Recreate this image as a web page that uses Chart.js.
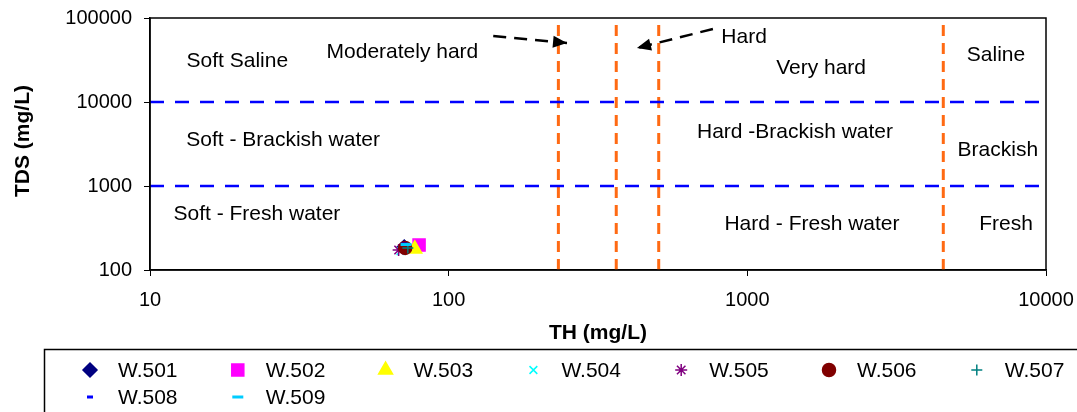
<!DOCTYPE html>
<html>
<head>
<meta charset="utf-8">
<script src="https://cdn.jsdelivr.net/npm/chart.js@4.4.0/dist/chart.umd.min.js"></script>
<style>
  html, body { margin: 0; padding: 0; background: #fff; }
  #wrap { width: 1077px; height: 412px; }
</style>
</head>
<body>
<div id="wrap"><canvas id="chart"></canvas></div>
<script>
// wells (sample points)
var wellNames = ['W.501', 'W.502', 'W.503', 'W.504', 'W.505', 'W.506', 'W.507', 'W.508', 'W.509'];
var wellTH = [71, 79.6, 77, 69, 68, 71.5, 73, 71, 72];
var wellTDS = [188, 198, 178, 168, 173, 183, 183, 204, 201];

// axes
var xTicks = [10, 100, 1000, 10000];
var yTicks = [100, 1000, 10000, 100000];

// class boundaries
var tdsLimits = [1000, 10000];
var thLimits = [233, 364, 505, 4530];

// arrows pointing at the hardness boundaries [TH, TDS]
var arrowModerate = [[141, 61000], [249, 50400]];
var arrowHard = [[767, 74000], [427, 43900]];

// zone captions [text, TH, TDS]
var zoneText = ['Soft Saline', 'Moderately hard', 'Hard', 'Very hard', 'Saline',
  'Soft - Brackish water', 'Hard -Brackish water', 'Brackish',
  'Soft - Fresh water', 'Hard - Fresh water', 'Fresh'];
var zoneTH = [19.6, 70, 975, 1766, 6800, 27.9, 1444, 6900, 22.8, 1646, 7350];
var zoneTDS = [30800, 39400, 59400, 25400, 36300, 3530, 4400, 2680, 464, 353, 353];

// marker styles
var wellColors = ['#000080', '#ff00ff', '#ffff00', '#00ffff', '#800080', '#800000', '#008080', '#0000ff', '#00ccff'];
var wellShapes = ['rectRot', 'rect', 'triangle', 'crossRot', 'star', 'circle', 'cross', 'line', 'line'];
var wellSizes = [7, 8.5, 8, 5.5, 6, 6.5, 5.5, 3, 5.5];

var FONT = '"Liberation Sans", Arial, sans-serif';

var datasets = [];

wellNames.forEach(function(name, i) {
    datasets.push({
        label: name,
        data: [{ x: wellTH[i], y: wellTDS[i] }],
        showLine: false,
        order: wellNames.length - i,   // later wells on top
        pointStyle: wellShapes[i],
        pointRadius: wellSizes[i],
        backgroundColor: wellColors[i],
        borderColor: wellColors[i],
        borderWidth: (wellShapes[i] === 'line' ? 3 : 1.5),
        isWell: true
    });
});

tdsLimits.forEach(function(v) {
    datasets.push({
        data: [{ x: xTicks[0], y: v }, { x: xTicks[xTicks.length - 1], y: v }],
        showLine: true, pointRadius: 0, order: 100,
        borderColor: '#0000ff', borderWidth: 2.5, borderDash: [14, 11]
    });
});

thLimits.forEach(function(v) {
    datasets.push({
        data: [{ x: v, y: yTicks[0] }, { x: v, y: yTicks[yTicks.length - 1] }],
        showLine: true, pointRadius: 0, order: 100,
        borderColor: '#ff6a13', borderWidth: 3, borderDash: [11, 7]
    });
});

[arrowModerate, arrowHard].forEach(function(a) {
    datasets.push({
        data: a.map(function(p) { return { x: p[0], y: p[1] }; }),
        showLine: true, pointRadius: 0, order: 100,
        borderColor: '#000', borderWidth: 2.5, borderDash: [13, 8],
        isArrow: true
    });
});

function onlyDecades(list) {
    return function(scale) {
        scale.ticks = list.map(function(v) { return { value: v, major: true }; });
    };
}

var decorPlugin = {
    id: 'decor',
    afterDatasetsDraw: function(chart) {
        var ctx = chart.ctx;
        var area = chart.chartArea;
        var xs = chart.scales.x, ys = chart.scales.y;

        // arrow heads
        chart.data.datasets.forEach(function(ds) {
            if (!ds.isArrow) return;
            var p0 = ds.data[ds.data.length - 2], p1 = ds.data[ds.data.length - 1];
            var x0 = xs.getPixelForValue(p0.x), y0 = ys.getPixelForValue(p0.y);
            var x1 = xs.getPixelForValue(p1.x), y1 = ys.getPixelForValue(p1.y);
            var ang = Math.atan2(y1 - y0, x1 - x0);
            ctx.save();
            ctx.translate(x1, y1);
            ctx.rotate(ang);
            ctx.fillStyle = '#000';
            ctx.beginPath();
            ctx.moveTo(0, 0);
            ctx.lineTo(-14, -6);
            ctx.lineTo(-14, 6);
            ctx.closePath();
            ctx.fill();
            ctx.restore();
        });

        // frame
        ctx.save();
        ctx.strokeStyle = '#000';
        ctx.lineWidth = 1.5;
        ctx.strokeRect(area.left, area.top, area.right - area.left, area.bottom - area.top);
        ctx.restore();

        // zone captions
        ctx.save();
        ctx.fillStyle = '#000';
        ctx.font = '21px ' + FONT;
        ctx.textAlign = 'center';
        ctx.textBaseline = 'middle';
        zoneText.forEach(function(t, i) {
            ctx.fillText(t, xs.getPixelForValue(zoneTH[i]), ys.getPixelForValue(zoneTDS[i]));
        });
        ctx.restore();
    },
    afterDraw: function(chart) {
        var ctx = chart.ctx;
        var area = chart.chartArea;
        ctx.save();
        ctx.fillStyle = '#000';
        ctx.font = 'bold 21px ' + FONT;
        ctx.textAlign = 'center';
        ctx.textBaseline = 'middle';
        ctx.fillText('TH (mg/L)', (area.left + area.right) / 2, 333);
        ctx.translate(23, (area.top + area.bottom) / 2 - 3);
        ctx.rotate(-Math.PI / 2);
        ctx.fillText('TDS (mg/L)', 0, 0);
        ctx.restore();

        // legend box
        ctx.save();
        ctx.strokeStyle = '#000';
        ctx.lineWidth = 1.5;
        ctx.strokeRect(44.5, 349.5, 1100, 100);
        ctx.font = '21px ' + FONT;
        ctx.textAlign = 'left';
        ctx.textBaseline = 'middle';
        chart.data.datasets.forEach(function(ds, i) {
            if (!ds.isWell) return;
            var col = i % 7, row = Math.floor(i / 7);
            var mx = 90 + col * 147.8, my = 370 + row * 27;
            ctx.fillStyle = ds.backgroundColor;
            ctx.strokeStyle = ds.borderColor;
            ctx.lineWidth = ds.borderWidth;
            Chart.helpers.drawPoint(ctx, {
                pointStyle: ds.pointStyle,
                radius: ds.pointRadius,
                rotation: 0,
                borderWidth: ds.borderWidth
            }, mx, my);
            ctx.fillStyle = '#000';
            ctx.fillText(ds.label, mx + 28, my + 1);
        });
        ctx.restore();
    }
};

new Chart(document.getElementById('chart'), {
    type: 'scatter',
    data: { datasets: datasets },
    plugins: [decorPlugin],
    options: {
        responsive: true,
        maintainAspectRatio: false,
        animation: false,
        layout: { padding: { top: 18, right: 31, left: 0, bottom: 0 } },
        plugins: {
            legend: { display: false },
            tooltip: { enabled: false }
        },
        scales: {
            x: {
                type: 'logarithmic',
                min: xTicks[0], max: xTicks[xTicks.length - 1],
                afterBuildTicks: onlyDecades(xTicks),
                afterFit: function(scale) {
                    scale.height = 142;
                    scale.paddingLeft = 0;
                    scale.paddingRight = 0;
                },
                grid: { drawOnChartArea: false, tickLength: 6, color: '#000' },
                border: { color: '#000', width: 1.5 },
                ticks: {
                    color: '#000', padding: 12, maxRotation: 0, autoSkip: false,
                    font: { size: 20, family: FONT },
                    callback: function(v) { return String(v); }
                }
            },
            y: {
                type: 'logarithmic',
                min: yTicks[0], max: yTicks[yTicks.length - 1],
                afterBuildTicks: onlyDecades(yTicks),
                afterFit: function(scale) {
                    scale.width = 150;
                    scale.paddingTop = 0;
                    scale.paddingBottom = 0;
                },
                grid: { drawOnChartArea: false, tickLength: 6, color: '#000' },
                border: { color: '#000', width: 1.5 },
                ticks: {
                    color: '#000', padding: 12, autoSkip: false,
                    font: { size: 20, family: FONT },
                    callback: function(v) { return String(v); }
                }
            }
        }
    }
});
</script>
</body>
</html>
